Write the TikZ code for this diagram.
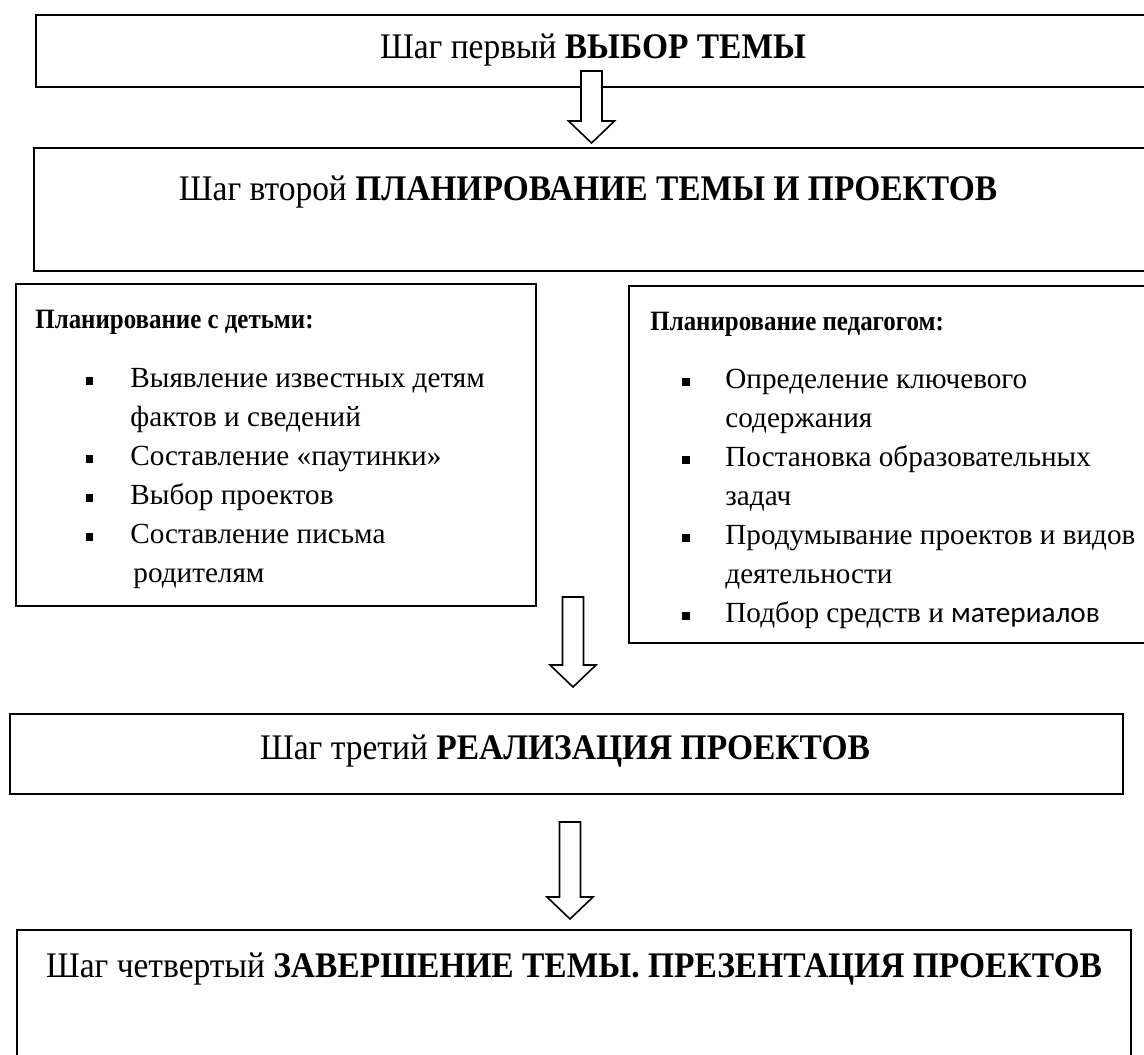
\documentclass[tikz,border=0pt]{standalone}
\usepackage{fontspec}
\setmainfont{Liberation Serif}
\newfontfamily\calibrifont{Carlito}
\usetikzlibrary{positioning}

\newcommand{\narrowtext}[2]{\scalebox{#1}[1]{#2}}

\tikzset{
    stepbox/.style={
        rectangle, anchor=north west,
        draw=black, line width=1pt,
        fill=white, inner sep=0pt,
    },
    steptext/.style={anchor=base, inner sep=0pt, font=\fontsize{18}{21}\selectfont},
    listtitle/.style={anchor=base west, inner sep=0pt, font=\bfseries\fontsize{14}{16}\selectfont},
    listitem/.style={anchor=base west, inner sep=0pt, font=\fontsize{14.6}{19.5}\selectfont},
    bulletmark/.style={rectangle, fill=black, minimum size=3.75pt, inner sep=0pt},
    blockarrow/.style={draw=black, line width=0.8pt, fill=white, line join=miter},
    pics/downarrow/.style={code={
        \draw[blockarrow] (-10.5,0) -- (10.5,0) -- (10.5,#1-22) -- (23,#1-22)
            -- (0,#1) -- (-23,#1-22) -- (-10.5,#1-22) -- cycle;
    }},
}

\begin{document}
\begin{tikzpicture}[x=0.5pt, y=-0.5pt]
    \useasboundingbox (0,0) rectangle (1144,1054);
    \clip (0,0) rectangle (1144,1054);

    % steps
    \node (step1) at (35,14) [stepbox, minimum width=557.5pt, minimum height=36pt] {};
    \node (step2) at (33,147) [stepbox, minimum width=558.5pt, minimum height=61.5pt] {};
    \node (kids) at (15,283) [stepbox, minimum width=260pt, minimum height=161pt] {};
    \node (teacher) at (628,285) [stepbox, minimum width=261pt, minimum height=178.5pt] {};
    \node (step3) at (9,713) [stepbox, minimum width=556.5pt, minimum height=40pt] {};
    \node (step4) at (16,929) [stepbox, minimum width=557pt, minimum height=65pt] {};

    \pic at (591.5,71) {downarrow=72};
    \pic at (573,597) {downarrow=90};
    \pic at (570,822) {downarrow=97};

    \node (step1text) at (593,59) [steptext] {\narrowtext{0.93}{Шаг первый \textbf{ВЫБОР ТЕМЫ}}};
    \node (step2text) at (588,200) [steptext] {\narrowtext{0.93}{Шаг второй \textbf{ПЛАНИРОВАНИЕ ТЕМЫ И ПРОЕКТОВ}}};
    \node (step3text) at (565,759) [steptext] {\narrowtext{0.93}{Шаг третий \textbf{РЕАЛИЗАЦИЯ ПРОЕКТОВ}}};
    \node (step4text) at (574,977) [steptext] {\narrowtext{0.93}{Шаг четвертый \textbf{ЗАВЕРШЕНИЕ ТЕМЫ. ПРЕЗЕНТАЦИЯ ПРОЕКТОВ}}};

    % planning with children
    \node (kidstitle) at (35,328) [listtitle] {\narrowtext{0.89}{Планирование с детьми:}};
    \node (kid1) at (130,387) [listitem] {Выявление известных детям};
    \node (kid1b) at (130,426) [listitem] {фактов и сведений};
    \node (kid2) at (130,465) [listitem] {Составление «паутинки»};
    \node (kid3) at (130,504) [listitem] {Выбор проектов};
    \node (kid4) at (130,543) [listitem] {Составление письма};
    \node (kid4b) at (133,582) [listitem] {родителям};
    \node (kid1mark) at ([xshift=-20.25pt, yshift=3pt]kid1.base west) [bulletmark] {};
    \node (kid2mark) at ([xshift=-20.25pt, yshift=3pt]kid2.base west) [bulletmark] {};
    \node (kid3mark) at ([xshift=-20.25pt, yshift=3pt]kid3.base west) [bulletmark] {};
    \node (kid4mark) at ([xshift=-20.25pt, yshift=3pt]kid4.base west) [bulletmark] {};

    % planning by the teacher
    \node (teachertitle) at (650,330) [listtitle] {\narrowtext{0.89}{Планирование педагогом:}};
    \node (teach1) at (725,388) [listitem] {Определение ключевого};
    \node (teach1b) at (725,427) [listitem] {содержания};
    \node (teach2) at (725,466) [listitem] {Постановка образовательных};
    \node (teach2b) at (725,505) [listitem] {задач};
    \node (teach3) at (725,544) [listitem] {Продумывание проектов и видов};
    \node (teach3b) at (725,583) [listitem] {деятельности};
    \node (teach4) at (725,622) [listitem] {Подбор средств и {\calibrifont материалов}};
    \node (teach1mark) at ([xshift=-19.5pt, yshift=3pt]teach1.base west) [bulletmark] {};
    \node (teach2mark) at ([xshift=-19.5pt, yshift=3pt]teach2.base west) [bulletmark] {};
    \node (teach3mark) at ([xshift=-19.5pt, yshift=3pt]teach3.base west) [bulletmark] {};
    \node (teach4mark) at ([xshift=-19.5pt, yshift=3pt]teach4.base west) [bulletmark] {};
\end{tikzpicture}
\end{document}
